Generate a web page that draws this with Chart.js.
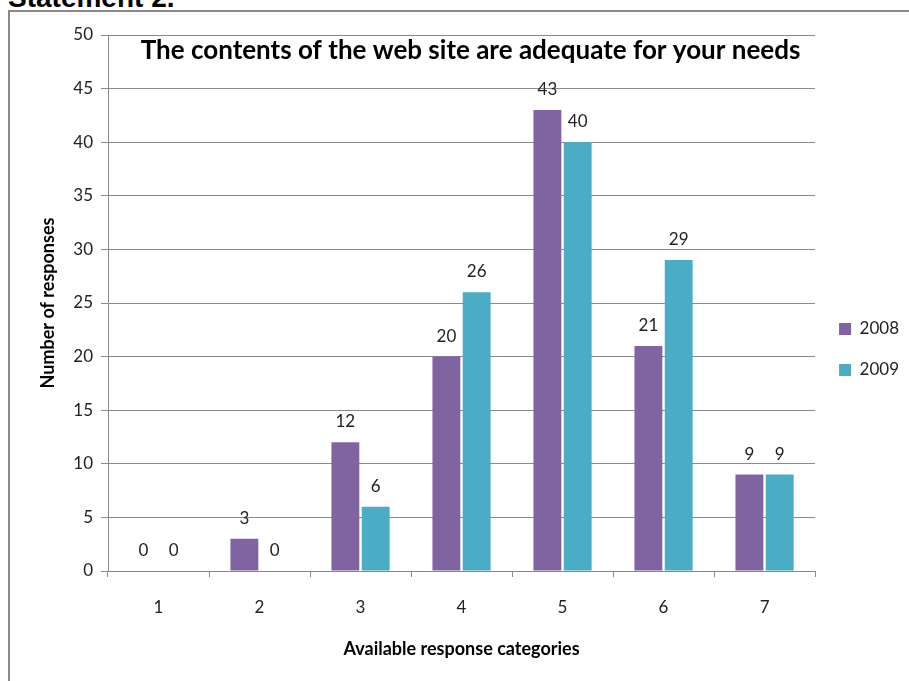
<!DOCTYPE html>
<html>
<head>
<meta charset="utf-8">
<script src="https://cdn.jsdelivr.net/npm/chart.js@4"></script>
<style>
  html, body { margin: 0; padding: 0; background: #fff; overflow: hidden; }
  #wrap { position: relative; width: 909px; height: 681px; }
  #heading {
    position: absolute; left: 8px; top: -18px;
    font: bold 28px "Liberation Sans", Arial, sans-serif; color: #000;
    white-space: nowrap;
  }
  #frame {
    position: absolute; left: 8px; top: 10px; width: 920px; height: 700px;
    border: 2px solid #8a8a8a; box-sizing: border-box;
  }
  #chart { position: absolute; left: 0; top: 0; }
</style>
</head>
<body>
<div id="wrap">
  <div id="heading">Statement 2.</div>
  <div id="frame"></div>
  <canvas id="chart" width="909" height="681"></canvas>
</div>
<script>
const categories = ['1', '2', '3', '4', '5', '6', '7'];
const values2008 = [0, 3, 12, 20, 43, 21, 9];
const values2009 = [0, 0, 6, 26, 40, 29, 9];
const seriesNames = ['2008', '2009'];
const chartTitle = 'The contents of the web site are adequate for your needs';
const xTitle = 'Available response categories';
const yTitle = 'Number of responses';

const fontFamily = 'Lato, "Open Sans", sans-serif';

// value labels above each bar
const barLabels = {
    id: 'barLabels',
    afterDatasetsDraw(chart) {
        const ctx = chart.ctx;
        ctx.save();
        ctx.font = '17px ' + fontFamily;
        ctx.fillStyle = '#222';
        ctx.textAlign = 'center';
        ctx.textBaseline = 'bottom';
        chart.data.datasets.forEach((ds, i) => {
            chart.getDatasetMeta(i).data.forEach((bar, j) => {
                ctx.fillText(ds.data[j], bar.x, bar.y - 12);
            });
        });
        ctx.restore();
    }
};

// title sits inside the plot area, just under the top gridline
const innerTitle = {
    id: 'innerTitle',
    afterDraw(chart) {
        const ctx = chart.ctx;
        const area = chart.chartArea;
        ctx.save();
        ctx.font = 'bold 26px ' + fontFamily;
        ctx.fillStyle = '#000';
        ctx.textAlign = 'center';
        ctx.textBaseline = 'middle';
        ctx.fillText(chartTitle, (area.left + area.right) / 2 + 9, area.top + 16);
        ctx.restore();
    }
};

new Chart(document.getElementById('chart').getContext('2d'), {
    type: 'bar',
    data: {
        labels: categories,
        datasets: [
            { label: seriesNames[0], data: values2008, backgroundColor: '#8064A2' },
            { label: seriesNames[1], data: values2009, backgroundColor: '#4BACC6' }
        ]
    },
    options: {
        responsive: false,
        animation: false,
        categoryPercentage: 0.6,
        barPercentage: 0.92,
        layout: { padding: { top: 35, right: 0, bottom: 17, left: 33 } },
        plugins: {
            legend: {
                position: 'right',
                labels: {
                    font: { family: fontFamily, size: 17 },
                    color: '#222',
                    boxWidth: 12,
                    boxHeight: 12,
                    padding: 24
                }
            },
            tooltip: { enabled: false }
        },
        scales: {
            x: {
                grid: { drawOnChartArea: false, tickLength: 6, color: '#8a8a8a' },
                border: { color: '#8a8a8a' },
                ticks: { font: { family: fontFamily, size: 17 }, color: '#222', padding: 20 },
                title: {
                    display: true, text: xTitle, color: '#000',
                    font: { family: fontFamily, size: 18, weight: 'bold' },
                    padding: { top: 20 }
                },
                afterFit(scale) { scale.height = 93; }
            },
            y: {
                min: 0, max: 50,
                ticks: { stepSize: 5, font: { family: fontFamily, size: 17 }, color: '#222', padding: 8 },
                grid: { color: '#8a8a8a', tickLength: 7 },
                border: { color: '#8a8a8a' },
                title: {
                    display: true, text: yTitle, color: '#000',
                    font: { family: fontFamily, size: 18, weight: 'bold' }
                },
                afterFit(scale) { scale.width = 75; }
            }
        }
    },
    plugins: [barLabels, innerTitle]
});
</script>
</body>
</html>
